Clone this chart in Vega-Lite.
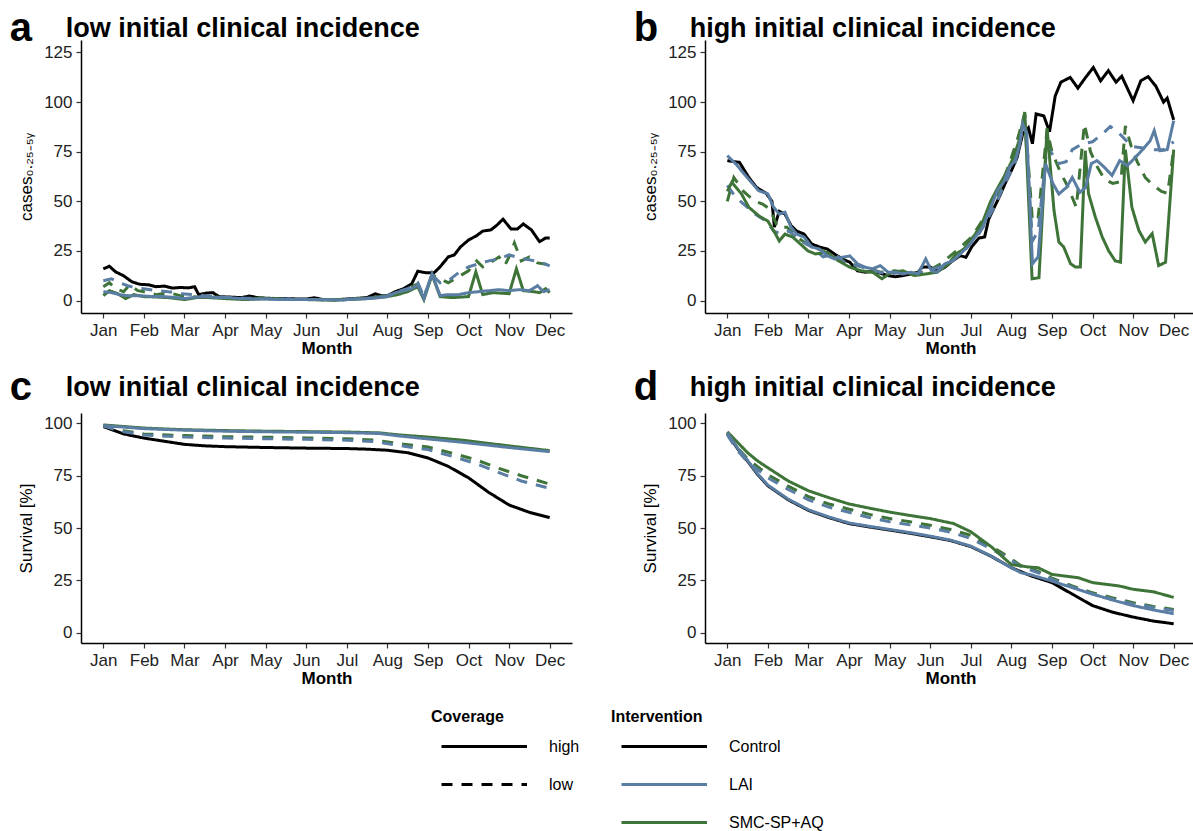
{
  "$schema": "https://vega.github.io/schema/vega-lite/v6.json",
  "padding": {"left": 9, "top": 9, "right": 0, "bottom": 0},
  "config": {
    "font": "Liberation Sans",
    "view": {"stroke": null},
    "axis": {
      "grid": false,
      "domainColor": "#000",
      "domainWidth": 1.5,
      "tickColor": "#333",
      "tickWidth": 1.2,
      "tickSize": 5,
      "labelFont": "Liberation Sans",
      "labelFontSize": 17,
      "labelColor": "#222",
      "labelPadding": 4,
      "titleFont": "Liberation Sans",
      "titleFontSize": 17,
      "titleColor": "#000"
    },
    "axisX": {"titleFontWeight": "bold", "titlePadding": 2},
    "axisY": {"titleFontWeight": "normal", "titlePadding": 8},
    "legend": {
      "direction": "vertical",
      "titleFont": "Liberation Sans",
      "titleFontSize": 16,
      "titleFontWeight": "bold",
      "titleColor": "#000",
      "titlePadding": 1,
      "labelFont": "Liberation Sans",
      "labelFontSize": 16,
      "labelColor": "#000",
      "symbolType": "M-2.25,0H2.25",
      "symbolStrokeWidth": 3,
      "symbolSize": 1444,
      "symbolOffset": 32.75,
      "labelOffset": 44.25,
      "rowPadding": 9
    }
  },
  "datasets": {
    "series": [
      {"panel": "a", "month": 1, "intervention": "Control", "coverage": "high", "value": 16},
      {"panel": "a", "month": 1.15, "intervention": "Control", "coverage": "high", "value": 17.3},
      {"panel": "a", "month": 1.3, "intervention": "Control", "coverage": "high", "value": 14.5},
      {"panel": "a", "month": 1.5, "intervention": "Control", "coverage": "high", "value": 12.5},
      {"panel": "a", "month": 1.7, "intervention": "Control", "coverage": "high", "value": 9.5},
      {"panel": "a", "month": 1.9, "intervention": "Control", "coverage": "high", "value": 8.2},
      {"panel": "a", "month": 2.1, "intervention": "Control", "coverage": "high", "value": 8},
      {"panel": "a", "month": 2.3, "intervention": "Control", "coverage": "high", "value": 7},
      {"panel": "a", "month": 2.5, "intervention": "Control", "coverage": "high", "value": 7.3},
      {"panel": "a", "month": 2.7, "intervention": "Control", "coverage": "high", "value": 6.3},
      {"panel": "a", "month": 2.9, "intervention": "Control", "coverage": "high", "value": 6.6},
      {"panel": "a", "month": 3.1, "intervention": "Control", "coverage": "high", "value": 6.4},
      {"panel": "a", "month": 3.25, "intervention": "Control", "coverage": "high", "value": 7},
      {"panel": "a", "month": 3.35, "intervention": "Control", "coverage": "high", "value": 3},
      {"panel": "a", "month": 3.55, "intervention": "Control", "coverage": "high", "value": 3.8},
      {"panel": "a", "month": 3.7, "intervention": "Control", "coverage": "high", "value": 4},
      {"panel": "a", "month": 3.85, "intervention": "Control", "coverage": "high", "value": 2},
      {"panel": "a", "month": 4.1, "intervention": "Control", "coverage": "high", "value": 1.8},
      {"panel": "a", "month": 4.4, "intervention": "Control", "coverage": "high", "value": 1.5},
      {"panel": "a", "month": 4.6, "intervention": "Control", "coverage": "high", "value": 2.3},
      {"panel": "a", "month": 4.8, "intervention": "Control", "coverage": "high", "value": 1.5},
      {"panel": "a", "month": 5.0, "intervention": "Control", "coverage": "high", "value": 1.2},
      {"panel": "a", "month": 5.3, "intervention": "Control", "coverage": "high", "value": 1},
      {"panel": "a", "month": 5.5, "intervention": "Control", "coverage": "high", "value": 1},
      {"panel": "a", "month": 5.8, "intervention": "Control", "coverage": "high", "value": 0.8},
      {"panel": "a", "month": 6.0, "intervention": "Control", "coverage": "high", "value": 0.8},
      {"panel": "a", "month": 6.2, "intervention": "Control", "coverage": "high", "value": 1.4},
      {"panel": "a", "month": 6.4, "intervention": "Control", "coverage": "high", "value": 0.6},
      {"panel": "a", "month": 6.7, "intervention": "Control", "coverage": "high", "value": 0.3},
      {"panel": "a", "month": 7.0, "intervention": "Control", "coverage": "high", "value": 0.8},
      {"panel": "a", "month": 7.3, "intervention": "Control", "coverage": "high", "value": 1.2},
      {"panel": "a", "month": 7.5, "intervention": "Control", "coverage": "high", "value": 1.5},
      {"panel": "a", "month": 7.7, "intervention": "Control", "coverage": "high", "value": 3.4},
      {"panel": "a", "month": 7.85, "intervention": "Control", "coverage": "high", "value": 2.5},
      {"panel": "a", "month": 8.0, "intervention": "Control", "coverage": "high", "value": 2.5},
      {"panel": "a", "month": 8.2, "intervention": "Control", "coverage": "high", "value": 4.5},
      {"panel": "a", "month": 8.4, "intervention": "Control", "coverage": "high", "value": 6},
      {"panel": "a", "month": 8.6, "intervention": "Control", "coverage": "high", "value": 8.4},
      {"panel": "a", "month": 8.75, "intervention": "Control", "coverage": "high", "value": 14.8},
      {"panel": "a", "month": 8.95, "intervention": "Control", "coverage": "high", "value": 14},
      {"panel": "a", "month": 9.15, "intervention": "Control", "coverage": "high", "value": 14},
      {"panel": "a", "month": 9.3, "intervention": "Control", "coverage": "high", "value": 17},
      {"panel": "a", "month": 9.5, "intervention": "Control", "coverage": "high", "value": 22},
      {"panel": "a", "month": 9.65, "intervention": "Control", "coverage": "high", "value": 23},
      {"panel": "a", "month": 9.8, "intervention": "Control", "coverage": "high", "value": 27},
      {"panel": "a", "month": 10.0, "intervention": "Control", "coverage": "high", "value": 30.5},
      {"panel": "a", "month": 10.2, "intervention": "Control", "coverage": "high", "value": 32.7},
      {"panel": "a", "month": 10.35, "intervention": "Control", "coverage": "high", "value": 35},
      {"panel": "a", "month": 10.55, "intervention": "Control", "coverage": "high", "value": 35.6},
      {"panel": "a", "month": 10.7, "intervention": "Control", "coverage": "high", "value": 38},
      {"panel": "a", "month": 10.85, "intervention": "Control", "coverage": "high", "value": 41},
      {"panel": "a", "month": 11.05, "intervention": "Control", "coverage": "high", "value": 36},
      {"panel": "a", "month": 11.2, "intervention": "Control", "coverage": "high", "value": 36},
      {"panel": "a", "month": 11.35, "intervention": "Control", "coverage": "high", "value": 38.6},
      {"panel": "a", "month": 11.55, "intervention": "Control", "coverage": "high", "value": 35.6},
      {"panel": "a", "month": 11.75, "intervention": "Control", "coverage": "high", "value": 29.7},
      {"panel": "a", "month": 11.9, "intervention": "Control", "coverage": "high", "value": 31.5},
      {"panel": "a", "month": 12, "intervention": "Control", "coverage": "high", "value": 31.5},

      {"panel": "a", "month": 1, "intervention": "SMC-SP+AQ", "coverage": "low", "value": 7},
      {"panel": "a", "month": 1.15, "intervention": "SMC-SP+AQ", "coverage": "low", "value": 9},
      {"panel": "a", "month": 1.3, "intervention": "SMC-SP+AQ", "coverage": "low", "value": 6},
      {"panel": "a", "month": 1.5, "intervention": "SMC-SP+AQ", "coverage": "low", "value": 4.5},
      {"panel": "a", "month": 1.65, "intervention": "SMC-SP+AQ", "coverage": "low", "value": 8},
      {"panel": "a", "month": 1.85, "intervention": "SMC-SP+AQ", "coverage": "low", "value": 5},
      {"panel": "a", "month": 2.0, "intervention": "SMC-SP+AQ", "coverage": "low", "value": 4.5},
      {"panel": "a", "month": 2.3, "intervention": "SMC-SP+AQ", "coverage": "low", "value": 3},
      {"panel": "a", "month": 2.6, "intervention": "SMC-SP+AQ", "coverage": "low", "value": 4},
      {"panel": "a", "month": 2.9, "intervention": "SMC-SP+AQ", "coverage": "low", "value": 2.5},
      {"panel": "a", "month": 3.2, "intervention": "SMC-SP+AQ", "coverage": "low", "value": 2},
      {"panel": "a", "month": 3.5, "intervention": "SMC-SP+AQ", "coverage": "low", "value": 1.5},
      {"panel": "a", "month": 3.8, "intervention": "SMC-SP+AQ", "coverage": "low", "value": 1.8},
      {"panel": "a", "month": 4.2, "intervention": "SMC-SP+AQ", "coverage": "low", "value": 1.2},
      {"panel": "a", "month": 4.6, "intervention": "SMC-SP+AQ", "coverage": "low", "value": 0.8},
      {"panel": "a", "month": 5.0, "intervention": "SMC-SP+AQ", "coverage": "low", "value": 1.5},
      {"panel": "a", "month": 5.4, "intervention": "SMC-SP+AQ", "coverage": "low", "value": 0.8},
      {"panel": "a", "month": 5.8, "intervention": "SMC-SP+AQ", "coverage": "low", "value": 0.5},
      {"panel": "a", "month": 6.2, "intervention": "SMC-SP+AQ", "coverage": "low", "value": 0.5},
      {"panel": "a", "month": 6.6, "intervention": "SMC-SP+AQ", "coverage": "low", "value": 0.3},
      {"panel": "a", "month": 7.0, "intervention": "SMC-SP+AQ", "coverage": "low", "value": 0.8},
      {"panel": "a", "month": 7.5, "intervention": "SMC-SP+AQ", "coverage": "low", "value": 1.2},
      {"panel": "a", "month": 8.0, "intervention": "SMC-SP+AQ", "coverage": "low", "value": 2.5},
      {"panel": "a", "month": 8.25, "intervention": "SMC-SP+AQ", "coverage": "low", "value": 4},
      {"panel": "a", "month": 8.5, "intervention": "SMC-SP+AQ", "coverage": "low", "value": 6},
      {"panel": "a", "month": 8.75, "intervention": "SMC-SP+AQ", "coverage": "low", "value": 8.5},
      {"panel": "a", "month": 8.9, "intervention": "SMC-SP+AQ", "coverage": "low", "value": 1.5},
      {"panel": "a", "month": 9.1, "intervention": "SMC-SP+AQ", "coverage": "low", "value": 13},
      {"panel": "a", "month": 9.3, "intervention": "SMC-SP+AQ", "coverage": "low", "value": 11},
      {"panel": "a", "month": 9.5, "intervention": "SMC-SP+AQ", "coverage": "low", "value": 9},
      {"panel": "a", "month": 9.75, "intervention": "SMC-SP+AQ", "coverage": "low", "value": 12},
      {"panel": "a", "month": 10.0, "intervention": "SMC-SP+AQ", "coverage": "low", "value": 15},
      {"panel": "a", "month": 10.2, "intervention": "SMC-SP+AQ", "coverage": "low", "value": 20},
      {"panel": "a", "month": 10.35, "intervention": "SMC-SP+AQ", "coverage": "low", "value": 17},
      {"panel": "a", "month": 10.6, "intervention": "SMC-SP+AQ", "coverage": "low", "value": 20},
      {"panel": "a", "month": 10.75, "intervention": "SMC-SP+AQ", "coverage": "low", "value": 22},
      {"panel": "a", "month": 10.9, "intervention": "SMC-SP+AQ", "coverage": "low", "value": 18},
      {"panel": "a", "month": 11.0, "intervention": "SMC-SP+AQ", "coverage": "low", "value": 22},
      {"panel": "a", "month": 11.13, "intervention": "SMC-SP+AQ", "coverage": "low", "value": 29},
      {"panel": "a", "month": 11.3, "intervention": "SMC-SP+AQ", "coverage": "low", "value": 20},
      {"panel": "a", "month": 11.5, "intervention": "SMC-SP+AQ", "coverage": "low", "value": 22},
      {"panel": "a", "month": 11.7, "intervention": "SMC-SP+AQ", "coverage": "low", "value": 19},
      {"panel": "a", "month": 12, "intervention": "SMC-SP+AQ", "coverage": "low", "value": 18},

      {"panel": "a", "month": 1, "intervention": "LAI", "coverage": "low", "value": 10},
      {"panel": "a", "month": 1.2, "intervention": "LAI", "coverage": "low", "value": 11},
      {"panel": "a", "month": 1.4, "intervention": "LAI", "coverage": "low", "value": 9},
      {"panel": "a", "month": 1.6, "intervention": "LAI", "coverage": "low", "value": 7.5},
      {"panel": "a", "month": 1.8, "intervention": "LAI", "coverage": "low", "value": 6.5},
      {"panel": "a", "month": 2.0, "intervention": "LAI", "coverage": "low", "value": 6},
      {"panel": "a", "month": 2.3, "intervention": "LAI", "coverage": "low", "value": 5},
      {"panel": "a", "month": 2.6, "intervention": "LAI", "coverage": "low", "value": 4.5},
      {"panel": "a", "month": 2.9, "intervention": "LAI", "coverage": "low", "value": 3.5},
      {"panel": "a", "month": 3.2, "intervention": "LAI", "coverage": "low", "value": 3},
      {"panel": "a", "month": 3.5, "intervention": "LAI", "coverage": "low", "value": 2.5},
      {"panel": "a", "month": 3.8, "intervention": "LAI", "coverage": "low", "value": 2},
      {"panel": "a", "month": 4.1, "intervention": "LAI", "coverage": "low", "value": 1.5},
      {"panel": "a", "month": 4.5, "intervention": "LAI", "coverage": "low", "value": 1.2},
      {"panel": "a", "month": 5.0, "intervention": "LAI", "coverage": "low", "value": 1},
      {"panel": "a", "month": 5.5, "intervention": "LAI", "coverage": "low", "value": 0.8},
      {"panel": "a", "month": 6.0, "intervention": "LAI", "coverage": "low", "value": 0.6},
      {"panel": "a", "month": 6.5, "intervention": "LAI", "coverage": "low", "value": 0.5},
      {"panel": "a", "month": 7.0, "intervention": "LAI", "coverage": "low", "value": 0.6},
      {"panel": "a", "month": 7.5, "intervention": "LAI", "coverage": "low", "value": 1.2},
      {"panel": "a", "month": 8.0, "intervention": "LAI", "coverage": "low", "value": 2.5},
      {"panel": "a", "month": 8.25, "intervention": "LAI", "coverage": "low", "value": 4.5},
      {"panel": "a", "month": 8.5, "intervention": "LAI", "coverage": "low", "value": 6},
      {"panel": "a", "month": 8.75, "intervention": "LAI", "coverage": "low", "value": 9},
      {"panel": "a", "month": 8.9, "intervention": "LAI", "coverage": "low", "value": 2},
      {"panel": "a", "month": 9.1, "intervention": "LAI", "coverage": "low", "value": 13},
      {"panel": "a", "month": 9.3, "intervention": "LAI", "coverage": "low", "value": 9},
      {"panel": "a", "month": 9.5, "intervention": "LAI", "coverage": "low", "value": 10},
      {"panel": "a", "month": 9.75, "intervention": "LAI", "coverage": "low", "value": 14},
      {"panel": "a", "month": 10.0, "intervention": "LAI", "coverage": "low", "value": 17},
      {"panel": "a", "month": 10.25, "intervention": "LAI", "coverage": "low", "value": 18.5},
      {"panel": "a", "month": 10.5, "intervention": "LAI", "coverage": "low", "value": 20},
      {"panel": "a", "month": 10.75, "intervention": "LAI", "coverage": "low", "value": 21},
      {"panel": "a", "month": 11.0, "intervention": "LAI", "coverage": "low", "value": 23},
      {"panel": "a", "month": 11.25, "intervention": "LAI", "coverage": "low", "value": 21.5},
      {"panel": "a", "month": 11.5, "intervention": "LAI", "coverage": "low", "value": 20.5},
      {"panel": "a", "month": 11.75, "intervention": "LAI", "coverage": "low", "value": 19.5},
      {"panel": "a", "month": 12, "intervention": "LAI", "coverage": "low", "value": 17.5},

      {"panel": "a", "month": 1, "intervention": "SMC-SP+AQ", "coverage": "high", "value": 2.5},
      {"panel": "a", "month": 1.15, "intervention": "SMC-SP+AQ", "coverage": "high", "value": 5},
      {"panel": "a", "month": 1.35, "intervention": "SMC-SP+AQ", "coverage": "high", "value": 3.5},
      {"panel": "a", "month": 1.55, "intervention": "SMC-SP+AQ", "coverage": "high", "value": 1},
      {"panel": "a", "month": 1.75, "intervention": "SMC-SP+AQ", "coverage": "high", "value": 3},
      {"panel": "a", "month": 2.0, "intervention": "SMC-SP+AQ", "coverage": "high", "value": 2},
      {"panel": "a", "month": 2.3, "intervention": "SMC-SP+AQ", "coverage": "high", "value": 1.8},
      {"panel": "a", "month": 2.6, "intervention": "SMC-SP+AQ", "coverage": "high", "value": 1.5},
      {"panel": "a", "month": 3.0, "intervention": "SMC-SP+AQ", "coverage": "high", "value": 0.5},
      {"panel": "a", "month": 3.3, "intervention": "SMC-SP+AQ", "coverage": "high", "value": 1.5},
      {"panel": "a", "month": 3.6, "intervention": "SMC-SP+AQ", "coverage": "high", "value": 1.5},
      {"panel": "a", "month": 4.0, "intervention": "SMC-SP+AQ", "coverage": "high", "value": 1},
      {"panel": "a", "month": 4.5, "intervention": "SMC-SP+AQ", "coverage": "high", "value": 0.5},
      {"panel": "a", "month": 5.0, "intervention": "SMC-SP+AQ", "coverage": "high", "value": 1},
      {"panel": "a", "month": 5.5, "intervention": "SMC-SP+AQ", "coverage": "high", "value": 0.5},
      {"panel": "a", "month": 6.0, "intervention": "SMC-SP+AQ", "coverage": "high", "value": 0.5},
      {"panel": "a", "month": 6.5, "intervention": "SMC-SP+AQ", "coverage": "high", "value": 0.3},
      {"panel": "a", "month": 7.0, "intervention": "SMC-SP+AQ", "coverage": "high", "value": 0.5},
      {"panel": "a", "month": 7.5, "intervention": "SMC-SP+AQ", "coverage": "high", "value": 1},
      {"panel": "a", "month": 8.0, "intervention": "SMC-SP+AQ", "coverage": "high", "value": 2},
      {"panel": "a", "month": 8.25, "intervention": "SMC-SP+AQ", "coverage": "high", "value": 3},
      {"panel": "a", "month": 8.5, "intervention": "SMC-SP+AQ", "coverage": "high", "value": 4.5},
      {"panel": "a", "month": 8.75, "intervention": "SMC-SP+AQ", "coverage": "high", "value": 7},
      {"panel": "a", "month": 8.9, "intervention": "SMC-SP+AQ", "coverage": "high", "value": 0.5},
      {"panel": "a", "month": 9.1, "intervention": "SMC-SP+AQ", "coverage": "high", "value": 13},
      {"panel": "a", "month": 9.3, "intervention": "SMC-SP+AQ", "coverage": "high", "value": 2},
      {"panel": "a", "month": 9.6, "intervention": "SMC-SP+AQ", "coverage": "high", "value": 1.5},
      {"panel": "a", "month": 10.0, "intervention": "SMC-SP+AQ", "coverage": "high", "value": 2},
      {"panel": "a", "month": 10.18, "intervention": "SMC-SP+AQ", "coverage": "high", "value": 14.5},
      {"panel": "a", "month": 10.35, "intervention": "SMC-SP+AQ", "coverage": "high", "value": 3},
      {"panel": "a", "month": 10.6, "intervention": "SMC-SP+AQ", "coverage": "high", "value": 4},
      {"panel": "a", "month": 11.0, "intervention": "SMC-SP+AQ", "coverage": "high", "value": 3.5},
      {"panel": "a", "month": 11.18, "intervention": "SMC-SP+AQ", "coverage": "high", "value": 16},
      {"panel": "a", "month": 11.35, "intervention": "SMC-SP+AQ", "coverage": "high", "value": 5},
      {"panel": "a", "month": 11.6, "intervention": "SMC-SP+AQ", "coverage": "high", "value": 4.5},
      {"panel": "a", "month": 11.75, "intervention": "SMC-SP+AQ", "coverage": "high", "value": 4},
      {"panel": "a", "month": 11.9, "intervention": "SMC-SP+AQ", "coverage": "high", "value": 6},
      {"panel": "a", "month": 12, "intervention": "SMC-SP+AQ", "coverage": "high", "value": 4},

      {"panel": "a", "month": 1, "intervention": "LAI", "coverage": "high", "value": 4.5},
      {"panel": "a", "month": 1.2, "intervention": "LAI", "coverage": "high", "value": 4},
      {"panel": "a", "month": 1.4, "intervention": "LAI", "coverage": "high", "value": 3},
      {"panel": "a", "month": 1.6, "intervention": "LAI", "coverage": "high", "value": 2.5},
      {"panel": "a", "month": 1.9, "intervention": "LAI", "coverage": "high", "value": 2.5},
      {"panel": "a", "month": 2.2, "intervention": "LAI", "coverage": "high", "value": 2},
      {"panel": "a", "month": 2.5, "intervention": "LAI", "coverage": "high", "value": 2},
      {"panel": "a", "month": 2.8, "intervention": "LAI", "coverage": "high", "value": 1.5},
      {"panel": "a", "month": 3.0, "intervention": "LAI", "coverage": "high", "value": 1},
      {"panel": "a", "month": 3.3, "intervention": "LAI", "coverage": "high", "value": 1.8},
      {"panel": "a", "month": 3.5, "intervention": "LAI", "coverage": "high", "value": 2},
      {"panel": "a", "month": 3.8, "intervention": "LAI", "coverage": "high", "value": 1.5},
      {"panel": "a", "month": 4.1, "intervention": "LAI", "coverage": "high", "value": 1.5},
      {"panel": "a", "month": 4.4, "intervention": "LAI", "coverage": "high", "value": 1},
      {"panel": "a", "month": 4.7, "intervention": "LAI", "coverage": "high", "value": 0.8},
      {"panel": "a", "month": 5.0, "intervention": "LAI", "coverage": "high", "value": 0.8},
      {"panel": "a", "month": 5.4, "intervention": "LAI", "coverage": "high", "value": 0.5},
      {"panel": "a", "month": 5.8, "intervention": "LAI", "coverage": "high", "value": 0.5},
      {"panel": "a", "month": 6.2, "intervention": "LAI", "coverage": "high", "value": 0.5},
      {"panel": "a", "month": 6.6, "intervention": "LAI", "coverage": "high", "value": 0.4},
      {"panel": "a", "month": 6.9, "intervention": "LAI", "coverage": "high", "value": 0.3},
      {"panel": "a", "month": 7.2, "intervention": "LAI", "coverage": "high", "value": 0.8},
      {"panel": "a", "month": 7.5, "intervention": "LAI", "coverage": "high", "value": 1},
      {"panel": "a", "month": 7.8, "intervention": "LAI", "coverage": "high", "value": 1.5},
      {"panel": "a", "month": 8.0, "intervention": "LAI", "coverage": "high", "value": 2},
      {"panel": "a", "month": 8.2, "intervention": "LAI", "coverage": "high", "value": 4},
      {"panel": "a", "month": 8.4, "intervention": "LAI", "coverage": "high", "value": 5},
      {"panel": "a", "month": 8.6, "intervention": "LAI", "coverage": "high", "value": 6},
      {"panel": "a", "month": 8.75, "intervention": "LAI", "coverage": "high", "value": 8},
      {"panel": "a", "month": 8.9, "intervention": "LAI", "coverage": "high", "value": 1},
      {"panel": "a", "month": 9.1, "intervention": "LAI", "coverage": "high", "value": 13.5},
      {"panel": "a", "month": 9.3, "intervention": "LAI", "coverage": "high", "value": 2.5},
      {"panel": "a", "month": 9.5, "intervention": "LAI", "coverage": "high", "value": 3},
      {"panel": "a", "month": 9.75, "intervention": "LAI", "coverage": "high", "value": 3},
      {"panel": "a", "month": 10.0, "intervention": "LAI", "coverage": "high", "value": 4},
      {"panel": "a", "month": 10.25, "intervention": "LAI", "coverage": "high", "value": 4.5},
      {"panel": "a", "month": 10.5, "intervention": "LAI", "coverage": "high", "value": 5},
      {"panel": "a", "month": 10.75, "intervention": "LAI", "coverage": "high", "value": 5.5},
      {"panel": "a", "month": 11.0, "intervention": "LAI", "coverage": "high", "value": 5},
      {"panel": "a", "month": 11.25, "intervention": "LAI", "coverage": "high", "value": 5.5},
      {"panel": "a", "month": 11.5, "intervention": "LAI", "coverage": "high", "value": 5},
      {"panel": "a", "month": 11.7, "intervention": "LAI", "coverage": "high", "value": 7.5},
      {"panel": "a", "month": 11.85, "intervention": "LAI", "coverage": "high", "value": 4.5},
      {"panel": "a", "month": 12, "intervention": "LAI", "coverage": "high", "value": 5.5},

      {"panel": "b", "month": 1, "intervention": "Control", "coverage": "high", "value": 70.5},
      {"panel": "b", "month": 1.3, "intervention": "Control", "coverage": "high", "value": 69.6},
      {"panel": "b", "month": 1.53, "intervention": "Control", "coverage": "high", "value": 62},
      {"panel": "b", "month": 1.72, "intervention": "Control", "coverage": "high", "value": 57},
      {"panel": "b", "month": 1.96, "intervention": "Control", "coverage": "high", "value": 54},
      {"panel": "b", "month": 2.1, "intervention": "Control", "coverage": "high", "value": 50},
      {"panel": "b", "month": 2.16, "intervention": "Control", "coverage": "high", "value": 37},
      {"panel": "b", "month": 2.28, "intervention": "Control", "coverage": "high", "value": 45},
      {"panel": "b", "month": 2.42, "intervention": "Control", "coverage": "high", "value": 43.6},
      {"panel": "b", "month": 2.57, "intervention": "Control", "coverage": "high", "value": 37.8},
      {"panel": "b", "month": 2.71, "intervention": "Control", "coverage": "high", "value": 35},
      {"panel": "b", "month": 2.89, "intervention": "Control", "coverage": "high", "value": 33.5},
      {"panel": "b", "month": 3.08, "intervention": "Control", "coverage": "high", "value": 28.5},
      {"panel": "b", "month": 3.27, "intervention": "Control", "coverage": "high", "value": 27},
      {"panel": "b", "month": 3.46, "intervention": "Control", "coverage": "high", "value": 26},
      {"panel": "b", "month": 3.64, "intervention": "Control", "coverage": "high", "value": 23.5},
      {"panel": "b", "month": 3.83, "intervention": "Control", "coverage": "high", "value": 21},
      {"panel": "b", "month": 4.02, "intervention": "Control", "coverage": "high", "value": 19.3},
      {"panel": "b", "month": 4.21, "intervention": "Control", "coverage": "high", "value": 15},
      {"panel": "b", "month": 4.39, "intervention": "Control", "coverage": "high", "value": 14.3},
      {"panel": "b", "month": 4.58, "intervention": "Control", "coverage": "high", "value": 14.6},
      {"panel": "b", "month": 4.77, "intervention": "Control", "coverage": "high", "value": 13.8},
      {"panel": "b", "month": 4.96, "intervention": "Control", "coverage": "high", "value": 12.6},
      {"panel": "b", "month": 5.14, "intervention": "Control", "coverage": "high", "value": 12},
      {"panel": "b", "month": 5.33, "intervention": "Control", "coverage": "high", "value": 12.6},
      {"panel": "b", "month": 5.52, "intervention": "Control", "coverage": "high", "value": 13.4},
      {"panel": "b", "month": 5.7, "intervention": "Control", "coverage": "high", "value": 14.3},
      {"panel": "b", "month": 5.8, "intervention": "Control", "coverage": "high", "value": 16.8},
      {"panel": "b", "month": 5.99, "intervention": "Control", "coverage": "high", "value": 17},
      {"panel": "b", "month": 6.17, "intervention": "Control", "coverage": "high", "value": 14.8},
      {"panel": "b", "month": 6.36, "intervention": "Control", "coverage": "high", "value": 16.8},
      {"panel": "b", "month": 6.55, "intervention": "Control", "coverage": "high", "value": 20},
      {"panel": "b", "month": 6.74, "intervention": "Control", "coverage": "high", "value": 22.6},
      {"panel": "b", "month": 6.88, "intervention": "Control", "coverage": "high", "value": 21.8},
      {"panel": "b", "month": 7.02, "intervention": "Control", "coverage": "high", "value": 27},
      {"panel": "b", "month": 7.2, "intervention": "Control", "coverage": "high", "value": 31.5},
      {"panel": "b", "month": 7.34, "intervention": "Control", "coverage": "high", "value": 32},
      {"panel": "b", "month": 7.44, "intervention": "Control", "coverage": "high", "value": 41},
      {"panel": "b", "month": 7.58, "intervention": "Control", "coverage": "high", "value": 47},
      {"panel": "b", "month": 7.72, "intervention": "Control", "coverage": "high", "value": 53},
      {"panel": "b", "month": 7.86, "intervention": "Control", "coverage": "high", "value": 59.6},
      {"panel": "b", "month": 8.0, "intervention": "Control", "coverage": "high", "value": 65.4},
      {"panel": "b", "month": 8.14, "intervention": "Control", "coverage": "high", "value": 72},
      {"panel": "b", "month": 8.28, "intervention": "Control", "coverage": "high", "value": 84},
      {"panel": "b", "month": 8.42, "intervention": "Control", "coverage": "high", "value": 87},
      {"panel": "b", "month": 8.52, "intervention": "Control", "coverage": "high", "value": 79},
      {"panel": "b", "month": 8.61, "intervention": "Control", "coverage": "high", "value": 94},
      {"panel": "b", "month": 8.8, "intervention": "Control", "coverage": "high", "value": 93},
      {"panel": "b", "month": 8.94, "intervention": "Control", "coverage": "high", "value": 85},
      {"panel": "b", "month": 9.08, "intervention": "Control", "coverage": "high", "value": 103},
      {"panel": "b", "month": 9.22, "intervention": "Control", "coverage": "high", "value": 110},
      {"panel": "b", "month": 9.45, "intervention": "Control", "coverage": "high", "value": 112.4},
      {"panel": "b", "month": 9.64, "intervention": "Control", "coverage": "high", "value": 107},
      {"panel": "b", "month": 9.83, "intervention": "Control", "coverage": "high", "value": 112.4},
      {"panel": "b", "month": 10.02, "intervention": "Control", "coverage": "high", "value": 117.4},
      {"panel": "b", "month": 10.2, "intervention": "Control", "coverage": "high", "value": 110.7},
      {"panel": "b", "month": 10.39, "intervention": "Control", "coverage": "high", "value": 115.8},
      {"panel": "b", "month": 10.58, "intervention": "Control", "coverage": "high", "value": 110},
      {"panel": "b", "month": 10.72, "intervention": "Control", "coverage": "high", "value": 113},
      {"panel": "b", "month": 11.0, "intervention": "Control", "coverage": "high", "value": 100.7},
      {"panel": "b", "month": 11.19, "intervention": "Control", "coverage": "high", "value": 110.7},
      {"panel": "b", "month": 11.37, "intervention": "Control", "coverage": "high", "value": 112.8},
      {"panel": "b", "month": 11.56, "intervention": "Control", "coverage": "high", "value": 108},
      {"panel": "b", "month": 11.75, "intervention": "Control", "coverage": "high", "value": 100},
      {"panel": "b", "month": 11.84, "intervention": "Control", "coverage": "high", "value": 102},
      {"panel": "b", "month": 12, "intervention": "Control", "coverage": "high", "value": 91},

      {"panel": "b", "month": 1, "intervention": "SMC-SP+AQ", "coverage": "low", "value": 50},
      {"panel": "b", "month": 1.16, "intervention": "SMC-SP+AQ", "coverage": "low", "value": 62},
      {"panel": "b", "month": 1.4, "intervention": "SMC-SP+AQ", "coverage": "low", "value": 55},
      {"panel": "b", "month": 1.68, "intervention": "SMC-SP+AQ", "coverage": "low", "value": 50},
      {"panel": "b", "month": 1.87, "intervention": "SMC-SP+AQ", "coverage": "low", "value": 48.6},
      {"panel": "b", "month": 2.05, "intervention": "SMC-SP+AQ", "coverage": "low", "value": 46},
      {"panel": "b", "month": 2.24, "intervention": "SMC-SP+AQ", "coverage": "low", "value": 37},
      {"panel": "b", "month": 2.47, "intervention": "SMC-SP+AQ", "coverage": "low", "value": 37},
      {"panel": "b", "month": 2.71, "intervention": "SMC-SP+AQ", "coverage": "low", "value": 32},
      {"panel": "b", "month": 3.03, "intervention": "SMC-SP+AQ", "coverage": "low", "value": 27.7},
      {"panel": "b", "month": 3.36, "intervention": "SMC-SP+AQ", "coverage": "low", "value": 25},
      {"panel": "b", "month": 3.64, "intervention": "SMC-SP+AQ", "coverage": "low", "value": 21.8},
      {"panel": "b", "month": 4.02, "intervention": "SMC-SP+AQ", "coverage": "low", "value": 18.5},
      {"panel": "b", "month": 4.39, "intervention": "SMC-SP+AQ", "coverage": "low", "value": 16.8},
      {"panel": "b", "month": 4.77, "intervention": "SMC-SP+AQ", "coverage": "low", "value": 14.3},
      {"panel": "b", "month": 5.14, "intervention": "SMC-SP+AQ", "coverage": "low", "value": 15},
      {"panel": "b", "month": 5.52, "intervention": "SMC-SP+AQ", "coverage": "low", "value": 13.4},
      {"panel": "b", "month": 5.89, "intervention": "SMC-SP+AQ", "coverage": "low", "value": 14.3},
      {"panel": "b", "month": 6.26, "intervention": "SMC-SP+AQ", "coverage": "low", "value": 18.5},
      {"panel": "b", "month": 6.64, "intervention": "SMC-SP+AQ", "coverage": "low", "value": 25},
      {"panel": "b", "month": 7.02, "intervention": "SMC-SP+AQ", "coverage": "low", "value": 32},
      {"panel": "b", "month": 7.39, "intervention": "SMC-SP+AQ", "coverage": "low", "value": 43.6},
      {"panel": "b", "month": 7.67, "intervention": "SMC-SP+AQ", "coverage": "low", "value": 53.7},
      {"panel": "b", "month": 7.95, "intervention": "SMC-SP+AQ", "coverage": "low", "value": 69},
      {"panel": "b", "month": 8.14, "intervention": "SMC-SP+AQ", "coverage": "low", "value": 80.5},
      {"panel": "b", "month": 8.33, "intervention": "SMC-SP+AQ", "coverage": "low", "value": 94},
      {"panel": "b", "month": 8.52, "intervention": "SMC-SP+AQ", "coverage": "low", "value": 40},
      {"panel": "b", "month": 8.66, "intervention": "SMC-SP+AQ", "coverage": "low", "value": 42},
      {"panel": "b", "month": 8.88, "intervention": "SMC-SP+AQ", "coverage": "low", "value": 86},
      {"panel": "b", "month": 9.0, "intervention": "SMC-SP+AQ", "coverage": "low", "value": 75},
      {"panel": "b", "month": 9.2, "intervention": "SMC-SP+AQ", "coverage": "low", "value": 65},
      {"panel": "b", "month": 9.4, "intervention": "SMC-SP+AQ", "coverage": "low", "value": 57},
      {"panel": "b", "month": 9.6, "intervention": "SMC-SP+AQ", "coverage": "low", "value": 47},
      {"panel": "b", "month": 9.8, "intervention": "SMC-SP+AQ", "coverage": "low", "value": 89},
      {"panel": "b", "month": 9.95, "intervention": "SMC-SP+AQ", "coverage": "low", "value": 75},
      {"panel": "b", "month": 10.1, "intervention": "SMC-SP+AQ", "coverage": "low", "value": 68},
      {"panel": "b", "month": 10.3, "intervention": "SMC-SP+AQ", "coverage": "low", "value": 61},
      {"panel": "b", "month": 10.5, "intervention": "SMC-SP+AQ", "coverage": "low", "value": 59},
      {"panel": "b", "month": 10.7, "intervention": "SMC-SP+AQ", "coverage": "low", "value": 60},
      {"panel": "b", "month": 10.81, "intervention": "SMC-SP+AQ", "coverage": "low", "value": 88},
      {"panel": "b", "month": 10.95, "intervention": "SMC-SP+AQ", "coverage": "low", "value": 78},
      {"panel": "b", "month": 11.1, "intervention": "SMC-SP+AQ", "coverage": "low", "value": 70},
      {"panel": "b", "month": 11.3, "intervention": "SMC-SP+AQ", "coverage": "low", "value": 62},
      {"panel": "b", "month": 11.5, "intervention": "SMC-SP+AQ", "coverage": "low", "value": 58},
      {"panel": "b", "month": 11.7, "intervention": "SMC-SP+AQ", "coverage": "low", "value": 55},
      {"panel": "b", "month": 11.85, "intervention": "SMC-SP+AQ", "coverage": "low", "value": 54},
      {"panel": "b", "month": 12, "intervention": "SMC-SP+AQ", "coverage": "low", "value": 76},

      {"panel": "b", "month": 1, "intervention": "LAI", "coverage": "low", "value": 58},
      {"panel": "b", "month": 1.21, "intervention": "LAI", "coverage": "low", "value": 52},
      {"panel": "b", "month": 1.44, "intervention": "LAI", "coverage": "low", "value": 48},
      {"panel": "b", "month": 1.68, "intervention": "LAI", "coverage": "low", "value": 43.6},
      {"panel": "b", "month": 1.96, "intervention": "LAI", "coverage": "low", "value": 40},
      {"panel": "b", "month": 2.14, "intervention": "LAI", "coverage": "low", "value": 35},
      {"panel": "b", "month": 2.33, "intervention": "LAI", "coverage": "low", "value": 33.5},
      {"panel": "b", "month": 2.52, "intervention": "LAI", "coverage": "low", "value": 35},
      {"panel": "b", "month": 2.8, "intervention": "LAI", "coverage": "low", "value": 30},
      {"panel": "b", "month": 3.08, "intervention": "LAI", "coverage": "low", "value": 27},
      {"panel": "b", "month": 3.36, "intervention": "LAI", "coverage": "low", "value": 22},
      {"panel": "b", "month": 3.64, "intervention": "LAI", "coverage": "low", "value": 23.5},
      {"panel": "b", "month": 3.92, "intervention": "LAI", "coverage": "low", "value": 18.5},
      {"panel": "b", "month": 4.21, "intervention": "LAI", "coverage": "low", "value": 17.6},
      {"panel": "b", "month": 4.58, "intervention": "LAI", "coverage": "low", "value": 15},
      {"panel": "b", "month": 4.96, "intervention": "LAI", "coverage": "low", "value": 13.4},
      {"panel": "b", "month": 5.33, "intervention": "LAI", "coverage": "low", "value": 14.3},
      {"panel": "b", "month": 5.7, "intervention": "LAI", "coverage": "low", "value": 13.4},
      {"panel": "b", "month": 6.08, "intervention": "LAI", "coverage": "low", "value": 16},
      {"panel": "b", "month": 6.45, "intervention": "LAI", "coverage": "low", "value": 18.5},
      {"panel": "b", "month": 6.83, "intervention": "LAI", "coverage": "low", "value": 25},
      {"panel": "b", "month": 7.2, "intervention": "LAI", "coverage": "low", "value": 33.5},
      {"panel": "b", "month": 7.58, "intervention": "LAI", "coverage": "low", "value": 47},
      {"panel": "b", "month": 7.86, "intervention": "LAI", "coverage": "low", "value": 60},
      {"panel": "b", "month": 8.09, "intervention": "LAI", "coverage": "low", "value": 69},
      {"panel": "b", "month": 8.33, "intervention": "LAI", "coverage": "low", "value": 90.6},
      {"panel": "b", "month": 8.52, "intervention": "LAI", "coverage": "low", "value": 30},
      {"panel": "b", "month": 8.66, "intervention": "LAI", "coverage": "low", "value": 35},
      {"panel": "b", "month": 8.88, "intervention": "LAI", "coverage": "low", "value": 77.6},
      {"panel": "b", "month": 9.17, "intervention": "LAI", "coverage": "low", "value": 69},
      {"panel": "b", "month": 9.35, "intervention": "LAI", "coverage": "low", "value": 70},
      {"panel": "b", "month": 9.5, "intervention": "LAI", "coverage": "low", "value": 76},
      {"panel": "b", "month": 9.75, "intervention": "LAI", "coverage": "low", "value": 79},
      {"panel": "b", "month": 10.0, "intervention": "LAI", "coverage": "low", "value": 80},
      {"panel": "b", "month": 10.25, "intervention": "LAI", "coverage": "low", "value": 84},
      {"panel": "b", "month": 10.44, "intervention": "LAI", "coverage": "low", "value": 87.7},
      {"panel": "b", "month": 10.65, "intervention": "LAI", "coverage": "low", "value": 84.4},
      {"panel": "b", "month": 10.97, "intervention": "LAI", "coverage": "low", "value": 77.6},
      {"panel": "b", "month": 11.2, "intervention": "LAI", "coverage": "low", "value": 77},
      {"panel": "b", "month": 11.47, "intervention": "LAI", "coverage": "low", "value": 76},
      {"panel": "b", "month": 11.75, "intervention": "LAI", "coverage": "low", "value": 76},
      {"panel": "b", "month": 12, "intervention": "LAI", "coverage": "low", "value": 80},

      {"panel": "b", "month": 1, "intervention": "SMC-SP+AQ", "coverage": "high", "value": 55},
      {"panel": "b", "month": 1.11, "intervention": "SMC-SP+AQ", "coverage": "high", "value": 59.6},
      {"panel": "b", "month": 1.35, "intervention": "SMC-SP+AQ", "coverage": "high", "value": 53.7},
      {"panel": "b", "month": 1.53, "intervention": "SMC-SP+AQ", "coverage": "high", "value": 47},
      {"panel": "b", "month": 1.77, "intervention": "SMC-SP+AQ", "coverage": "high", "value": 42.8},
      {"panel": "b", "month": 2.0, "intervention": "SMC-SP+AQ", "coverage": "high", "value": 40},
      {"panel": "b", "month": 2.19, "intervention": "SMC-SP+AQ", "coverage": "high", "value": 33.5},
      {"panel": "b", "month": 2.28, "intervention": "SMC-SP+AQ", "coverage": "high", "value": 30},
      {"panel": "b", "month": 2.42, "intervention": "SMC-SP+AQ", "coverage": "high", "value": 33.5},
      {"panel": "b", "month": 2.61, "intervention": "SMC-SP+AQ", "coverage": "high", "value": 32},
      {"panel": "b", "month": 2.8, "intervention": "SMC-SP+AQ", "coverage": "high", "value": 28.5},
      {"panel": "b", "month": 2.99, "intervention": "SMC-SP+AQ", "coverage": "high", "value": 25},
      {"panel": "b", "month": 3.17, "intervention": "SMC-SP+AQ", "coverage": "high", "value": 23.5},
      {"panel": "b", "month": 3.46, "intervention": "SMC-SP+AQ", "coverage": "high", "value": 24.3},
      {"panel": "b", "month": 3.74, "intervention": "SMC-SP+AQ", "coverage": "high", "value": 20},
      {"panel": "b", "month": 4.02, "intervention": "SMC-SP+AQ", "coverage": "high", "value": 16.8},
      {"panel": "b", "month": 4.3, "intervention": "SMC-SP+AQ", "coverage": "high", "value": 15},
      {"panel": "b", "month": 4.58, "intervention": "SMC-SP+AQ", "coverage": "high", "value": 14.3},
      {"panel": "b", "month": 4.81, "intervention": "SMC-SP+AQ", "coverage": "high", "value": 11},
      {"panel": "b", "month": 5.05, "intervention": "SMC-SP+AQ", "coverage": "high", "value": 14.3},
      {"panel": "b", "month": 5.33, "intervention": "SMC-SP+AQ", "coverage": "high", "value": 15},
      {"panel": "b", "month": 5.61, "intervention": "SMC-SP+AQ", "coverage": "high", "value": 12.6},
      {"panel": "b", "month": 5.89, "intervention": "SMC-SP+AQ", "coverage": "high", "value": 13.4},
      {"panel": "b", "month": 6.17, "intervention": "SMC-SP+AQ", "coverage": "high", "value": 14.3},
      {"panel": "b", "month": 6.45, "intervention": "SMC-SP+AQ", "coverage": "high", "value": 18.5},
      {"panel": "b", "month": 6.64, "intervention": "SMC-SP+AQ", "coverage": "high", "value": 23.5},
      {"panel": "b", "month": 6.83, "intervention": "SMC-SP+AQ", "coverage": "high", "value": 26},
      {"panel": "b", "month": 7.11, "intervention": "SMC-SP+AQ", "coverage": "high", "value": 33.5},
      {"panel": "b", "month": 7.3, "intervention": "SMC-SP+AQ", "coverage": "high", "value": 40},
      {"panel": "b", "month": 7.49, "intervention": "SMC-SP+AQ", "coverage": "high", "value": 50},
      {"panel": "b", "month": 7.67, "intervention": "SMC-SP+AQ", "coverage": "high", "value": 57},
      {"panel": "b", "month": 7.86, "intervention": "SMC-SP+AQ", "coverage": "high", "value": 63.8},
      {"panel": "b", "month": 8.05, "intervention": "SMC-SP+AQ", "coverage": "high", "value": 72},
      {"panel": "b", "month": 8.19, "intervention": "SMC-SP+AQ", "coverage": "high", "value": 80.5},
      {"panel": "b", "month": 8.33, "intervention": "SMC-SP+AQ", "coverage": "high", "value": 95},
      {"panel": "b", "month": 8.51, "intervention": "SMC-SP+AQ", "coverage": "high", "value": 11},
      {"panel": "b", "month": 8.68, "intervention": "SMC-SP+AQ", "coverage": "high", "value": 11.5},
      {"panel": "b", "month": 8.88, "intervention": "SMC-SP+AQ", "coverage": "high", "value": 86.9},
      {"panel": "b", "month": 9.05, "intervention": "SMC-SP+AQ", "coverage": "high", "value": 45.5},
      {"panel": "b", "month": 9.17, "intervention": "SMC-SP+AQ", "coverage": "high", "value": 29.5},
      {"panel": "b", "month": 9.29, "intervention": "SMC-SP+AQ", "coverage": "high", "value": 27},
      {"panel": "b", "month": 9.46, "intervention": "SMC-SP+AQ", "coverage": "high", "value": 18.5},
      {"panel": "b", "month": 9.58, "intervention": "SMC-SP+AQ", "coverage": "high", "value": 16.9},
      {"panel": "b", "month": 9.7, "intervention": "SMC-SP+AQ", "coverage": "high", "value": 16.9},
      {"panel": "b", "month": 9.82, "intervention": "SMC-SP+AQ", "coverage": "high", "value": 75.5},
      {"panel": "b", "month": 9.9, "intervention": "SMC-SP+AQ", "coverage": "high", "value": 54},
      {"panel": "b", "month": 10.07, "intervention": "SMC-SP+AQ", "coverage": "high", "value": 42},
      {"panel": "b", "month": 10.24, "intervention": "SMC-SP+AQ", "coverage": "high", "value": 32},
      {"panel": "b", "month": 10.4, "intervention": "SMC-SP+AQ", "coverage": "high", "value": 25},
      {"panel": "b", "month": 10.56, "intervention": "SMC-SP+AQ", "coverage": "high", "value": 20},
      {"panel": "b", "month": 10.69, "intervention": "SMC-SP+AQ", "coverage": "high", "value": 19.4},
      {"panel": "b", "month": 10.81, "intervention": "SMC-SP+AQ", "coverage": "high", "value": 76},
      {"panel": "b", "month": 10.97, "intervention": "SMC-SP+AQ", "coverage": "high", "value": 47},
      {"panel": "b", "month": 11.14, "intervention": "SMC-SP+AQ", "coverage": "high", "value": 35.4},
      {"panel": "b", "month": 11.3, "intervention": "SMC-SP+AQ", "coverage": "high", "value": 29.5},
      {"panel": "b", "month": 11.47, "intervention": "SMC-SP+AQ", "coverage": "high", "value": 33.7},
      {"panel": "b", "month": 11.63, "intervention": "SMC-SP+AQ", "coverage": "high", "value": 17.6},
      {"panel": "b", "month": 11.8, "intervention": "SMC-SP+AQ", "coverage": "high", "value": 19.3},
      {"panel": "b", "month": 12, "intervention": "SMC-SP+AQ", "coverage": "high", "value": 76},

      {"panel": "b", "month": 1, "intervention": "LAI", "coverage": "high", "value": 73},
      {"panel": "b", "month": 1.21, "intervention": "LAI", "coverage": "high", "value": 68.8},
      {"panel": "b", "month": 1.49, "intervention": "LAI", "coverage": "high", "value": 62},
      {"panel": "b", "month": 1.77, "intervention": "LAI", "coverage": "high", "value": 55.4},
      {"panel": "b", "month": 2.0, "intervention": "LAI", "coverage": "high", "value": 53.7},
      {"panel": "b", "month": 2.14, "intervention": "LAI", "coverage": "high", "value": 47},
      {"panel": "b", "month": 2.28, "intervention": "LAI", "coverage": "high", "value": 43.6},
      {"panel": "b", "month": 2.42, "intervention": "LAI", "coverage": "high", "value": 44.5},
      {"panel": "b", "month": 2.57, "intervention": "LAI", "coverage": "high", "value": 37},
      {"panel": "b", "month": 2.71, "intervention": "LAI", "coverage": "high", "value": 33.5},
      {"panel": "b", "month": 2.89, "intervention": "LAI", "coverage": "high", "value": 32},
      {"panel": "b", "month": 3.08, "intervention": "LAI", "coverage": "high", "value": 27},
      {"panel": "b", "month": 3.27, "intervention": "LAI", "coverage": "high", "value": 26},
      {"panel": "b", "month": 3.46, "intervention": "LAI", "coverage": "high", "value": 22.6},
      {"panel": "b", "month": 3.64, "intervention": "LAI", "coverage": "high", "value": 21},
      {"panel": "b", "month": 3.83, "intervention": "LAI", "coverage": "high", "value": 21.8},
      {"panel": "b", "month": 4.02, "intervention": "LAI", "coverage": "high", "value": 22.5},
      {"panel": "b", "month": 4.21, "intervention": "LAI", "coverage": "high", "value": 18.5},
      {"panel": "b", "month": 4.39, "intervention": "LAI", "coverage": "high", "value": 16.8},
      {"panel": "b", "month": 4.58, "intervention": "LAI", "coverage": "high", "value": 16},
      {"panel": "b", "month": 4.77, "intervention": "LAI", "coverage": "high", "value": 17.6},
      {"panel": "b", "month": 4.96, "intervention": "LAI", "coverage": "high", "value": 14.3},
      {"panel": "b", "month": 5.14, "intervention": "LAI", "coverage": "high", "value": 14.3},
      {"panel": "b", "month": 5.33, "intervention": "LAI", "coverage": "high", "value": 13.4},
      {"panel": "b", "month": 5.52, "intervention": "LAI", "coverage": "high", "value": 14.3},
      {"panel": "b", "month": 5.7, "intervention": "LAI", "coverage": "high", "value": 13.4},
      {"panel": "b", "month": 5.89, "intervention": "LAI", "coverage": "high", "value": 21},
      {"panel": "b", "month": 6.03, "intervention": "LAI", "coverage": "high", "value": 15},
      {"panel": "b", "month": 6.17, "intervention": "LAI", "coverage": "high", "value": 14.3},
      {"panel": "b", "month": 6.36, "intervention": "LAI", "coverage": "high", "value": 18.5},
      {"panel": "b", "month": 6.55, "intervention": "LAI", "coverage": "high", "value": 20},
      {"panel": "b", "month": 6.74, "intervention": "LAI", "coverage": "high", "value": 23.5},
      {"panel": "b", "month": 6.92, "intervention": "LAI", "coverage": "high", "value": 27},
      {"panel": "b", "month": 7.11, "intervention": "LAI", "coverage": "high", "value": 32},
      {"panel": "b", "month": 7.3, "intervention": "LAI", "coverage": "high", "value": 37},
      {"panel": "b", "month": 7.49, "intervention": "LAI", "coverage": "high", "value": 47},
      {"panel": "b", "month": 7.67, "intervention": "LAI", "coverage": "high", "value": 56},
      {"panel": "b", "month": 7.81, "intervention": "LAI", "coverage": "high", "value": 59.6},
      {"panel": "b", "month": 7.95, "intervention": "LAI", "coverage": "high", "value": 67},
      {"panel": "b", "month": 8.09, "intervention": "LAI", "coverage": "high", "value": 70.5},
      {"panel": "b", "month": 8.19, "intervention": "LAI", "coverage": "high", "value": 77},
      {"panel": "b", "month": 8.28, "intervention": "LAI", "coverage": "high", "value": 89},
      {"panel": "b", "month": 8.38, "intervention": "LAI", "coverage": "high", "value": 84},
      {"panel": "b", "month": 8.52, "intervention": "LAI", "coverage": "high", "value": 18.5},
      {"panel": "b", "month": 8.66, "intervention": "LAI", "coverage": "high", "value": 22},
      {"panel": "b", "month": 8.84, "intervention": "LAI", "coverage": "high", "value": 69},
      {"panel": "b", "month": 9.03, "intervention": "LAI", "coverage": "high", "value": 58.7},
      {"panel": "b", "month": 9.17, "intervention": "LAI", "coverage": "high", "value": 53.7},
      {"panel": "b", "month": 9.36, "intervention": "LAI", "coverage": "high", "value": 57},
      {"panel": "b", "month": 9.5, "intervention": "LAI", "coverage": "high", "value": 62},
      {"panel": "b", "month": 9.69, "intervention": "LAI", "coverage": "high", "value": 54.5},
      {"panel": "b", "month": 9.83, "intervention": "LAI", "coverage": "high", "value": 57},
      {"panel": "b", "month": 9.97, "intervention": "LAI", "coverage": "high", "value": 69},
      {"panel": "b", "month": 10.11, "intervention": "LAI", "coverage": "high", "value": 70.5},
      {"panel": "b", "month": 10.3, "intervention": "LAI", "coverage": "high", "value": 67},
      {"panel": "b", "month": 10.48, "intervention": "LAI", "coverage": "high", "value": 63},
      {"panel": "b", "month": 10.67, "intervention": "LAI", "coverage": "high", "value": 70.5},
      {"panel": "b", "month": 10.86, "intervention": "LAI", "coverage": "high", "value": 68},
      {"panel": "b", "month": 11.05, "intervention": "LAI", "coverage": "high", "value": 72},
      {"panel": "b", "month": 11.23, "intervention": "LAI", "coverage": "high", "value": 76},
      {"panel": "b", "month": 11.42, "intervention": "LAI", "coverage": "high", "value": 80.5},
      {"panel": "b", "month": 11.52, "intervention": "LAI", "coverage": "high", "value": 85.6},
      {"panel": "b", "month": 11.66, "intervention": "LAI", "coverage": "high", "value": 75.5},
      {"panel": "b", "month": 11.84, "intervention": "LAI", "coverage": "high", "value": 76},
      {"panel": "b", "month": 12, "intervention": "LAI", "coverage": "high", "value": 90.6},

      {"panel": "c", "month": 1, "intervention": "Control", "coverage": "high", "value": 98.5},
      {"panel": "c", "month": 1.5, "intervention": "Control", "coverage": "high", "value": 95},
      {"panel": "c", "month": 2, "intervention": "Control", "coverage": "high", "value": 93},
      {"panel": "c", "month": 2.5, "intervention": "Control", "coverage": "high", "value": 91.5},
      {"panel": "c", "month": 3, "intervention": "Control", "coverage": "high", "value": 90},
      {"panel": "c", "month": 3.5, "intervention": "Control", "coverage": "high", "value": 89.3},
      {"panel": "c", "month": 4, "intervention": "Control", "coverage": "high", "value": 88.9},
      {"panel": "c", "month": 5, "intervention": "Control", "coverage": "high", "value": 88.5},
      {"panel": "c", "month": 6, "intervention": "Control", "coverage": "high", "value": 88.2},
      {"panel": "c", "month": 7, "intervention": "Control", "coverage": "high", "value": 88},
      {"panel": "c", "month": 7.5, "intervention": "Control", "coverage": "high", "value": 87.7},
      {"panel": "c", "month": 8, "intervention": "Control", "coverage": "high", "value": 87.2},
      {"panel": "c", "month": 8.5, "intervention": "Control", "coverage": "high", "value": 86},
      {"panel": "c", "month": 9, "intervention": "Control", "coverage": "high", "value": 83.5},
      {"panel": "c", "month": 9.5, "intervention": "Control", "coverage": "high", "value": 79.5},
      {"panel": "c", "month": 10, "intervention": "Control", "coverage": "high", "value": 74},
      {"panel": "c", "month": 10.5, "intervention": "Control", "coverage": "high", "value": 67},
      {"panel": "c", "month": 11, "intervention": "Control", "coverage": "high", "value": 61},
      {"panel": "c", "month": 11.5, "intervention": "Control", "coverage": "high", "value": 57.5},
      {"panel": "c", "month": 12, "intervention": "Control", "coverage": "high", "value": 55},

      {"panel": "c", "month": 1, "intervention": "SMC-SP+AQ", "coverage": "low", "value": 99},
      {"panel": "c", "month": 1.5, "intervention": "SMC-SP+AQ", "coverage": "low", "value": 96.5},
      {"panel": "c", "month": 2, "intervention": "SMC-SP+AQ", "coverage": "low", "value": 95},
      {"panel": "c", "month": 3, "intervention": "SMC-SP+AQ", "coverage": "low", "value": 94.2},
      {"panel": "c", "month": 4, "intervention": "SMC-SP+AQ", "coverage": "low", "value": 93.7},
      {"panel": "c", "month": 5, "intervention": "SMC-SP+AQ", "coverage": "low", "value": 93.4},
      {"panel": "c", "month": 6, "intervention": "SMC-SP+AQ", "coverage": "low", "value": 93.1},
      {"panel": "c", "month": 7, "intervention": "SMC-SP+AQ", "coverage": "low", "value": 92.7},
      {"panel": "c", "month": 7.7, "intervention": "SMC-SP+AQ", "coverage": "low", "value": 92},
      {"panel": "c", "month": 8.45, "intervention": "SMC-SP+AQ", "coverage": "low", "value": 90},
      {"panel": "c", "month": 9, "intervention": "SMC-SP+AQ", "coverage": "low", "value": 88.7},
      {"panel": "c", "month": 9.6, "intervention": "SMC-SP+AQ", "coverage": "low", "value": 85.8},
      {"panel": "c", "month": 10.2, "intervention": "SMC-SP+AQ", "coverage": "low", "value": 82.5},
      {"panel": "c", "month": 10.75, "intervention": "SMC-SP+AQ", "coverage": "low", "value": 78.5},
      {"panel": "c", "month": 11.3, "intervention": "SMC-SP+AQ", "coverage": "low", "value": 75},
      {"panel": "c", "month": 12, "intervention": "SMC-SP+AQ", "coverage": "low", "value": 71},

      {"panel": "c", "month": 1, "intervention": "LAI", "coverage": "low", "value": 98.8},
      {"panel": "c", "month": 1.5, "intervention": "LAI", "coverage": "low", "value": 96},
      {"panel": "c", "month": 2, "intervention": "LAI", "coverage": "low", "value": 94.5},
      {"panel": "c", "month": 3, "intervention": "LAI", "coverage": "low", "value": 93.5},
      {"panel": "c", "month": 4, "intervention": "LAI", "coverage": "low", "value": 93},
      {"panel": "c", "month": 5, "intervention": "LAI", "coverage": "low", "value": 92.7},
      {"panel": "c", "month": 6, "intervention": "LAI", "coverage": "low", "value": 92.4},
      {"panel": "c", "month": 7, "intervention": "LAI", "coverage": "low", "value": 92},
      {"panel": "c", "month": 7.7, "intervention": "LAI", "coverage": "low", "value": 91.3},
      {"panel": "c", "month": 8.45, "intervention": "LAI", "coverage": "low", "value": 89},
      {"panel": "c", "month": 9, "intervention": "LAI", "coverage": "low", "value": 87.5},
      {"panel": "c", "month": 9.6, "intervention": "LAI", "coverage": "low", "value": 84.3},
      {"panel": "c", "month": 10.2, "intervention": "LAI", "coverage": "low", "value": 80.7},
      {"panel": "c", "month": 10.75, "intervention": "LAI", "coverage": "low", "value": 76.5},
      {"panel": "c", "month": 11.3, "intervention": "LAI", "coverage": "low", "value": 72.5},
      {"panel": "c", "month": 12, "intervention": "LAI", "coverage": "low", "value": 69},

      {"panel": "c", "month": 1, "intervention": "SMC-SP+AQ", "coverage": "high", "value": 99.3},
      {"panel": "c", "month": 2, "intervention": "SMC-SP+AQ", "coverage": "high", "value": 97.8},
      {"panel": "c", "month": 3, "intervention": "SMC-SP+AQ", "coverage": "high", "value": 97},
      {"panel": "c", "month": 4, "intervention": "SMC-SP+AQ", "coverage": "high", "value": 96.6},
      {"panel": "c", "month": 5, "intervention": "SMC-SP+AQ", "coverage": "high", "value": 96.3},
      {"panel": "c", "month": 6, "intervention": "SMC-SP+AQ", "coverage": "high", "value": 96.1},
      {"panel": "c", "month": 7, "intervention": "SMC-SP+AQ", "coverage": "high", "value": 95.9},
      {"panel": "c", "month": 7.8, "intervention": "SMC-SP+AQ", "coverage": "high", "value": 95.5},
      {"panel": "c", "month": 8.3, "intervention": "SMC-SP+AQ", "coverage": "high", "value": 94.5},
      {"panel": "c", "month": 9, "intervention": "SMC-SP+AQ", "coverage": "high", "value": 93.5},
      {"panel": "c", "month": 9.85, "intervention": "SMC-SP+AQ", "coverage": "high", "value": 92},
      {"panel": "c", "month": 10.9, "intervention": "SMC-SP+AQ", "coverage": "high", "value": 89.5},
      {"panel": "c", "month": 12, "intervention": "SMC-SP+AQ", "coverage": "high", "value": 87},

      {"panel": "c", "month": 1, "intervention": "LAI", "coverage": "high", "value": 99},
      {"panel": "c", "month": 2, "intervention": "LAI", "coverage": "high", "value": 97.5},
      {"panel": "c", "month": 3, "intervention": "LAI", "coverage": "high", "value": 96.8},
      {"panel": "c", "month": 4, "intervention": "LAI", "coverage": "high", "value": 96.3},
      {"panel": "c", "month": 5, "intervention": "LAI", "coverage": "high", "value": 96},
      {"panel": "c", "month": 6, "intervention": "LAI", "coverage": "high", "value": 95.8},
      {"panel": "c", "month": 7, "intervention": "LAI", "coverage": "high", "value": 95.6},
      {"panel": "c", "month": 7.8, "intervention": "LAI", "coverage": "high", "value": 95.2},
      {"panel": "c", "month": 8.3, "intervention": "LAI", "coverage": "high", "value": 94},
      {"panel": "c", "month": 9, "intervention": "LAI", "coverage": "high", "value": 92.6},
      {"panel": "c", "month": 9.85, "intervention": "LAI", "coverage": "high", "value": 91},
      {"panel": "c", "month": 10.9, "intervention": "LAI", "coverage": "high", "value": 88.7},
      {"panel": "c", "month": 12, "intervention": "LAI", "coverage": "high", "value": 86.5},

      {"panel": "d", "month": 1, "intervention": "Control", "coverage": "high", "value": 95.3},
      {"panel": "d", "month": 1.25, "intervention": "Control", "coverage": "high", "value": 88},
      {"panel": "d", "month": 1.5, "intervention": "Control", "coverage": "high", "value": 82},
      {"panel": "d", "month": 1.75, "intervention": "Control", "coverage": "high", "value": 75.5},
      {"panel": "d", "month": 2, "intervention": "Control", "coverage": "high", "value": 70.2},
      {"panel": "d", "month": 2.5, "intervention": "Control", "coverage": "high", "value": 63.5},
      {"panel": "d", "month": 3, "intervention": "Control", "coverage": "high", "value": 58.4},
      {"panel": "d", "month": 3.5, "intervention": "Control", "coverage": "high", "value": 55},
      {"panel": "d", "month": 4, "intervention": "Control", "coverage": "high", "value": 52.1},
      {"panel": "d", "month": 4.5, "intervention": "Control", "coverage": "high", "value": 50.5},
      {"panel": "d", "month": 5, "intervention": "Control", "coverage": "high", "value": 49},
      {"panel": "d", "month": 5.5, "intervention": "Control", "coverage": "high", "value": 47.5},
      {"panel": "d", "month": 6, "intervention": "Control", "coverage": "high", "value": 45.8},
      {"panel": "d", "month": 6.5, "intervention": "Control", "coverage": "high", "value": 44},
      {"panel": "d", "month": 7, "intervention": "Control", "coverage": "high", "value": 41.1},
      {"panel": "d", "month": 7.5, "intervention": "Control", "coverage": "high", "value": 36.5},
      {"panel": "d", "month": 8, "intervention": "Control", "coverage": "high", "value": 31},
      {"panel": "d", "month": 8.5, "intervention": "Control", "coverage": "high", "value": 27},
      {"panel": "d", "month": 9, "intervention": "Control", "coverage": "high", "value": 23.9},
      {"panel": "d", "month": 9.5, "intervention": "Control", "coverage": "high", "value": 18.4},
      {"panel": "d", "month": 10, "intervention": "Control", "coverage": "high", "value": 12.9},
      {"panel": "d", "month": 10.5, "intervention": "Control", "coverage": "high", "value": 9.7},
      {"panel": "d", "month": 11, "intervention": "Control", "coverage": "high", "value": 7.4},
      {"panel": "d", "month": 11.5, "intervention": "Control", "coverage": "high", "value": 5.5},
      {"panel": "d", "month": 12, "intervention": "Control", "coverage": "high", "value": 4.2},

      {"panel": "d", "month": 1, "intervention": "SMC-SP+AQ", "coverage": "low", "value": 95},
      {"panel": "d", "month": 1.25, "intervention": "SMC-SP+AQ", "coverage": "low", "value": 88.5},
      {"panel": "d", "month": 1.5, "intervention": "SMC-SP+AQ", "coverage": "low", "value": 83},
      {"panel": "d", "month": 1.85, "intervention": "SMC-SP+AQ", "coverage": "low", "value": 77.8},
      {"panel": "d", "month": 2, "intervention": "SMC-SP+AQ", "coverage": "low", "value": 75.5},
      {"panel": "d", "month": 2.5, "intervention": "SMC-SP+AQ", "coverage": "low", "value": 70},
      {"panel": "d", "month": 3, "intervention": "SMC-SP+AQ", "coverage": "low", "value": 65},
      {"panel": "d", "month": 3.5, "intervention": "SMC-SP+AQ", "coverage": "low", "value": 61.5},
      {"panel": "d", "month": 4, "intervention": "SMC-SP+AQ", "coverage": "low", "value": 59},
      {"panel": "d", "month": 4.5, "intervention": "SMC-SP+AQ", "coverage": "low", "value": 56.5},
      {"panel": "d", "month": 5, "intervention": "SMC-SP+AQ", "coverage": "low", "value": 54.5},
      {"panel": "d", "month": 5.5, "intervention": "SMC-SP+AQ", "coverage": "low", "value": 53},
      {"panel": "d", "month": 6, "intervention": "SMC-SP+AQ", "coverage": "low", "value": 51.3},
      {"panel": "d", "month": 6.5, "intervention": "SMC-SP+AQ", "coverage": "low", "value": 49.3},
      {"panel": "d", "month": 7, "intervention": "SMC-SP+AQ", "coverage": "low", "value": 46.5},
      {"panel": "d", "month": 7.4, "intervention": "SMC-SP+AQ", "coverage": "low", "value": 42},
      {"panel": "d", "month": 7.74, "intervention": "SMC-SP+AQ", "coverage": "low", "value": 38.5},
      {"panel": "d", "month": 8.24, "intervention": "SMC-SP+AQ", "coverage": "low", "value": 32},
      {"panel": "d", "month": 8.66, "intervention": "SMC-SP+AQ", "coverage": "low", "value": 29.2},
      {"panel": "d", "month": 9, "intervention": "SMC-SP+AQ", "coverage": "low", "value": 26},
      {"panel": "d", "month": 9.5, "intervention": "SMC-SP+AQ", "coverage": "low", "value": 22.3},
      {"panel": "d", "month": 10, "intervention": "SMC-SP+AQ", "coverage": "low", "value": 19},
      {"panel": "d", "month": 10.5, "intervention": "SMC-SP+AQ", "coverage": "low", "value": 16.6},
      {"panel": "d", "month": 11, "intervention": "SMC-SP+AQ", "coverage": "low", "value": 14.3},
      {"panel": "d", "month": 11.5, "intervention": "SMC-SP+AQ", "coverage": "low", "value": 12.5},
      {"panel": "d", "month": 12, "intervention": "SMC-SP+AQ", "coverage": "low", "value": 11},

      {"panel": "d", "month": 1, "intervention": "LAI", "coverage": "low", "value": 94.5},
      {"panel": "d", "month": 1.25, "intervention": "LAI", "coverage": "low", "value": 87},
      {"panel": "d", "month": 1.5, "intervention": "LAI", "coverage": "low", "value": 81.5},
      {"panel": "d", "month": 1.85, "intervention": "LAI", "coverage": "low", "value": 76.5},
      {"panel": "d", "month": 2, "intervention": "LAI", "coverage": "low", "value": 74},
      {"panel": "d", "month": 2.5, "intervention": "LAI", "coverage": "low", "value": 68.5},
      {"panel": "d", "month": 3, "intervention": "LAI", "coverage": "low", "value": 63.5},
      {"panel": "d", "month": 3.5, "intervention": "LAI", "coverage": "low", "value": 60},
      {"panel": "d", "month": 4, "intervention": "LAI", "coverage": "low", "value": 57.5},
      {"panel": "d", "month": 4.5, "intervention": "LAI", "coverage": "low", "value": 55},
      {"panel": "d", "month": 5, "intervention": "LAI", "coverage": "low", "value": 53},
      {"panel": "d", "month": 5.5, "intervention": "LAI", "coverage": "low", "value": 51.5},
      {"panel": "d", "month": 6, "intervention": "LAI", "coverage": "low", "value": 50},
      {"panel": "d", "month": 6.5, "intervention": "LAI", "coverage": "low", "value": 48},
      {"panel": "d", "month": 7, "intervention": "LAI", "coverage": "low", "value": 45},
      {"panel": "d", "month": 7.4, "intervention": "LAI", "coverage": "low", "value": 41},
      {"panel": "d", "month": 7.74, "intervention": "LAI", "coverage": "low", "value": 37.5},
      {"panel": "d", "month": 8.24, "intervention": "LAI", "coverage": "low", "value": 31.5},
      {"panel": "d", "month": 8.66, "intervention": "LAI", "coverage": "low", "value": 28.6},
      {"panel": "d", "month": 9, "intervention": "LAI", "coverage": "low", "value": 25.4},
      {"panel": "d", "month": 9.5, "intervention": "LAI", "coverage": "low", "value": 21.8},
      {"panel": "d", "month": 10, "intervention": "LAI", "coverage": "low", "value": 18.4},
      {"panel": "d", "month": 10.5, "intervention": "LAI", "coverage": "low", "value": 16},
      {"panel": "d", "month": 11, "intervention": "LAI", "coverage": "low", "value": 13.7},
      {"panel": "d", "month": 11.5, "intervention": "LAI", "coverage": "low", "value": 12},
      {"panel": "d", "month": 12, "intervention": "LAI", "coverage": "low", "value": 10.5},

      {"panel": "d", "month": 1, "intervention": "SMC-SP+AQ", "coverage": "high", "value": 96},
      {"panel": "d", "month": 1.25, "intervention": "SMC-SP+AQ", "coverage": "high", "value": 91},
      {"panel": "d", "month": 1.5, "intervention": "SMC-SP+AQ", "coverage": "high", "value": 86},
      {"panel": "d", "month": 1.75, "intervention": "SMC-SP+AQ", "coverage": "high", "value": 82},
      {"panel": "d", "month": 2, "intervention": "SMC-SP+AQ", "coverage": "high", "value": 78.8},
      {"panel": "d", "month": 2.5, "intervention": "SMC-SP+AQ", "coverage": "high", "value": 72.5},
      {"panel": "d", "month": 3, "intervention": "SMC-SP+AQ", "coverage": "high", "value": 67.8},
      {"panel": "d", "month": 3.5, "intervention": "SMC-SP+AQ", "coverage": "high", "value": 64.5},
      {"panel": "d", "month": 4, "intervention": "SMC-SP+AQ", "coverage": "high", "value": 61.5},
      {"panel": "d", "month": 4.5, "intervention": "SMC-SP+AQ", "coverage": "high", "value": 59.5},
      {"panel": "d", "month": 5, "intervention": "SMC-SP+AQ", "coverage": "high", "value": 57.6},
      {"panel": "d", "month": 5.5, "intervention": "SMC-SP+AQ", "coverage": "high", "value": 56},
      {"panel": "d", "month": 6, "intervention": "SMC-SP+AQ", "coverage": "high", "value": 54.5},
      {"panel": "d", "month": 6.58, "intervention": "SMC-SP+AQ", "coverage": "high", "value": 52.1},
      {"panel": "d", "month": 7, "intervention": "SMC-SP+AQ", "coverage": "high", "value": 48.2},
      {"panel": "d", "month": 7.5, "intervention": "SMC-SP+AQ", "coverage": "high", "value": 41.1},
      {"panel": "d", "month": 8, "intervention": "SMC-SP+AQ", "coverage": "high", "value": 32.5},
      {"panel": "d", "month": 8.4, "intervention": "SMC-SP+AQ", "coverage": "high", "value": 31.4},
      {"panel": "d", "month": 8.66, "intervention": "SMC-SP+AQ", "coverage": "high", "value": 31},
      {"panel": "d", "month": 9, "intervention": "SMC-SP+AQ", "coverage": "high", "value": 27.8},
      {"panel": "d", "month": 9.65, "intervention": "SMC-SP+AQ", "coverage": "high", "value": 26.2},
      {"panel": "d", "month": 10, "intervention": "SMC-SP+AQ", "coverage": "high", "value": 23.9},
      {"panel": "d", "month": 10.65, "intervention": "SMC-SP+AQ", "coverage": "high", "value": 22.3},
      {"panel": "d", "month": 11, "intervention": "SMC-SP+AQ", "coverage": "high", "value": 20.7},
      {"panel": "d", "month": 11.5, "intervention": "SMC-SP+AQ", "coverage": "high", "value": 19.5},
      {"panel": "d", "month": 12, "intervention": "SMC-SP+AQ", "coverage": "high", "value": 16.8},

      {"panel": "d", "month": 1, "intervention": "LAI", "coverage": "high", "value": 95.5},
      {"panel": "d", "month": 1.25, "intervention": "LAI", "coverage": "high", "value": 88.3},
      {"panel": "d", "month": 1.5, "intervention": "LAI", "coverage": "high", "value": 82.3},
      {"panel": "d", "month": 1.75, "intervention": "LAI", "coverage": "high", "value": 75.8},
      {"panel": "d", "month": 2, "intervention": "LAI", "coverage": "high", "value": 70.5},
      {"panel": "d", "month": 2.5, "intervention": "LAI", "coverage": "high", "value": 63.8},
      {"panel": "d", "month": 3, "intervention": "LAI", "coverage": "high", "value": 58.7},
      {"panel": "d", "month": 3.5, "intervention": "LAI", "coverage": "high", "value": 55.3},
      {"panel": "d", "month": 4, "intervention": "LAI", "coverage": "high", "value": 52.4},
      {"panel": "d", "month": 4.5, "intervention": "LAI", "coverage": "high", "value": 50.8},
      {"panel": "d", "month": 5, "intervention": "LAI", "coverage": "high", "value": 49.3},
      {"panel": "d", "month": 5.5, "intervention": "LAI", "coverage": "high", "value": 47.8},
      {"panel": "d", "month": 6, "intervention": "LAI", "coverage": "high", "value": 46.1},
      {"panel": "d", "month": 6.5, "intervention": "LAI", "coverage": "high", "value": 44.2},
      {"panel": "d", "month": 7, "intervention": "LAI", "coverage": "high", "value": 41.3},
      {"panel": "d", "month": 7.5, "intervention": "LAI", "coverage": "high", "value": 36.6},
      {"panel": "d", "month": 8, "intervention": "LAI", "coverage": "high", "value": 31},
      {"panel": "d", "month": 8.24, "intervention": "LAI", "coverage": "high", "value": 28.6},
      {"panel": "d", "month": 8.5, "intervention": "LAI", "coverage": "high", "value": 27.5},
      {"panel": "d", "month": 9, "intervention": "LAI", "coverage": "high", "value": 24.6},
      {"panel": "d", "month": 9.5, "intervention": "LAI", "coverage": "high", "value": 21.5},
      {"panel": "d", "month": 10, "intervention": "LAI", "coverage": "high", "value": 18.4},
      {"panel": "d", "month": 10.5, "intervention": "LAI", "coverage": "high", "value": 15.5},
      {"panel": "d", "month": 11, "intervention": "LAI", "coverage": "high", "value": 12.9},
      {"panel": "d", "month": 11.5, "intervention": "LAI", "coverage": "high", "value": 10.8},
      {"panel": "d", "month": 12, "intervention": "LAI", "coverage": "high", "value": 9}
    ]
  },
  "vconcat": [
    {
      "hconcat": [
        {
          "title": {"text": "a", "fontSize": 40, "fontWeight": "bold", "anchor": "start", "color": "#000", "offset": -34, "dx": -8},
          "vconcat": [
            {
              "title": {"text": "low initial clinical incidence", "fontSize": 27, "fontWeight": "bold", "anchor": "start", "color": "#000", "dx": 48, "offset": -3},
              "width": 491,
              "height": 273,
              "data": {"name": "series"},
              "transform": [{"filter": "datum.panel === 'a'"}],
              "mark": {"type": "line", "strokeWidth": 3, "clip": true},
              "encoding": {
                "x": {"field": "month", "type": "quantitative", "scale": {"domain": [0.45, 12.55], "nice": false, "zero": false}, "axis": {"values": [1, 2, 3, 4, 5, 6, 7, 8, 9, 10, 11, 12], "labelExpr": "['Jan','Feb','Mar','Apr','May','Jun','Jul','Aug','Sep','Oct','Nov','Dec'][datum.value - 1]", "title": "Month"}},
                "y": {"field": "value", "type": "quantitative", "scale": {"domain": [-6.25, 131.25], "nice": false, "zero": false}, "axis": {"values": [0, 25, 50, 75, 100, 125], "title": "cases₀.₂₅₋₅ᵧ"}},
                "color": {"field": "intervention", "type": "nominal", "scale": {"domain": ["Control", "LAI", "SMC-SP+AQ"], "range": ["#000000", "#5a7ea3", "#3f7438"]}, "legend": {"title": "Intervention", "orient": "none", "legendX": 530, "legendY": 669}},
                "strokeDash": {"field": "coverage", "type": "nominal", "scale": {"domain": ["high", "low"], "range": [[1, 0], [11, 9]]}, "legend": {"title": "Coverage", "symbolStrokeColor": "#000", "orient": "none", "legendX": 350, "legendY": 669}}
              }
            }
          ]
        },
        {
          "title": {"text": "b", "fontSize": 40, "fontWeight": "bold", "anchor": "start", "color": "#000", "offset": -34, "dx": -8},
          "vconcat": [
            {
              "title": {"text": "high initial clinical incidence", "fontSize": 27, "fontWeight": "bold", "anchor": "start", "color": "#000", "dx": 48, "offset": -3},
              "width": 491,
              "height": 273,
              "data": {"name": "series"},
              "transform": [{"filter": "datum.panel === 'b'"}],
              "mark": {"type": "line", "strokeWidth": 3, "clip": true},
              "encoding": {
                "x": {"field": "month", "type": "quantitative", "scale": {"domain": [0.45, 12.55], "nice": false, "zero": false}, "axis": {"values": [1, 2, 3, 4, 5, 6, 7, 8, 9, 10, 11, 12], "labelExpr": "['Jan','Feb','Mar','Apr','May','Jun','Jul','Aug','Sep','Oct','Nov','Dec'][datum.value - 1]", "title": "Month"}},
                "y": {"field": "value", "type": "quantitative", "scale": {"domain": [-6.25, 131.25], "nice": false, "zero": false}, "axis": {"values": [0, 25, 50, 75, 100, 125], "title": "cases₀.₂₅₋₅ᵧ"}},
                "color": {"field": "intervention", "type": "nominal"},
                "strokeDash": {"field": "coverage", "type": "nominal"}
              }
            }
          ]
        }
      ],
      "spacing": 61
    },
    {
      "hconcat": [
        {
          "title": {"text": "c", "fontSize": 40, "fontWeight": "bold", "anchor": "start", "color": "#000", "offset": -34, "dx": -8},
          "vconcat": [
            {
              "title": {"text": "low initial clinical incidence", "fontSize": 27, "fontWeight": "bold", "anchor": "start", "color": "#000", "dx": 48, "offset": 11},
              "width": 491,
              "height": 230,
              "data": {"name": "series"},
              "transform": [{"filter": "datum.panel === 'c'"}],
              "mark": {"type": "line", "strokeWidth": 3, "clip": true},
              "encoding": {
                "x": {"field": "month", "type": "quantitative", "scale": {"domain": [0.45, 12.55], "nice": false, "zero": false}, "axis": {"values": [1, 2, 3, 4, 5, 6, 7, 8, 9, 10, 11, 12], "labelExpr": "['Jan','Feb','Mar','Apr','May','Jun','Jul','Aug','Sep','Oct','Nov','Dec'][datum.value - 1]", "title": "Month"}},
                "y": {"field": "value", "type": "quantitative", "scale": {"domain": [-5, 105], "nice": false, "zero": false}, "axis": {"values": [0, 25, 50, 75, 100], "title": "Survival [%]"}},
                "color": {"field": "intervention", "type": "nominal"},
                "strokeDash": {"field": "coverage", "type": "nominal"}
              }
            }
          ]
        },
        {
          "title": {"text": "d", "fontSize": 40, "fontWeight": "bold", "anchor": "start", "color": "#000", "offset": -34, "dx": -8},
          "vconcat": [
            {
              "title": {"text": "high initial clinical incidence", "fontSize": 27, "fontWeight": "bold", "anchor": "start", "color": "#000", "dx": 48, "offset": 11},
              "width": 491,
              "height": 230,
              "data": {"name": "series"},
              "transform": [{"filter": "datum.panel === 'd'"}],
              "mark": {"type": "line", "strokeWidth": 3, "clip": true},
              "encoding": {
                "x": {"field": "month", "type": "quantitative", "scale": {"domain": [0.45, 12.55], "nice": false, "zero": false}, "axis": {"values": [1, 2, 3, 4, 5, 6, 7, 8, 9, 10, 11, 12], "labelExpr": "['Jan','Feb','Mar','Apr','May','Jun','Jul','Aug','Sep','Oct','Nov','Dec'][datum.value - 1]", "title": "Month"}},
                "y": {"field": "value", "type": "quantitative", "scale": {"domain": [-5, 105], "nice": false, "zero": false}, "axis": {"values": [0, 25, 50, 75, 100], "title": "Survival [%]"}},
                "color": {"field": "intervention", "type": "nominal"},
                "strokeDash": {"field": "coverage", "type": "nominal"}
              }
            }
          ]
        }
      ],
      "spacing": 61
    }
  ],
  "spacing": 12
}
